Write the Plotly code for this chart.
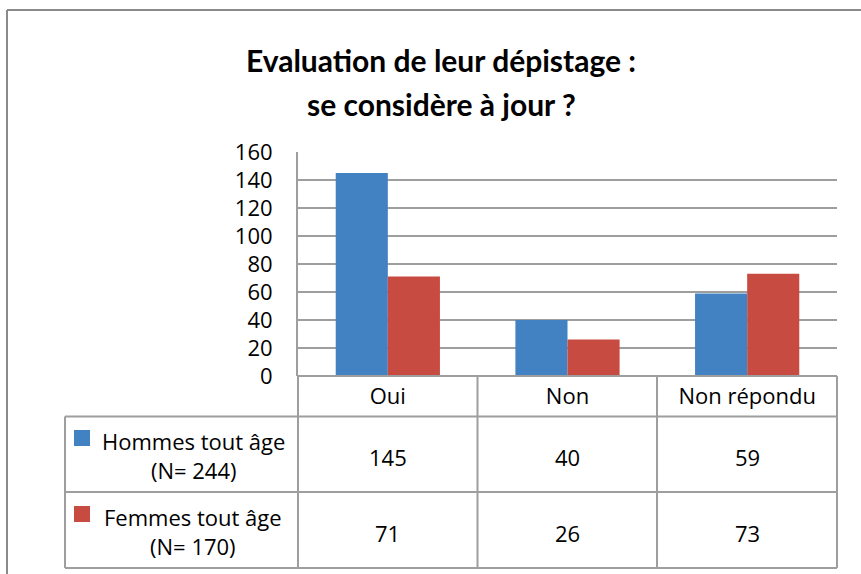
import plotly.graph_objects as go

categories = ["Oui", "Non", "Non répondu"]
series_names = ["Hommes tout âge<br>(N= 244)", "Femmes tout âge<br>(N= 170)"]
hommes = [145, 40, 59]
femmes = [71, 26, 73]
y_ticks = [0, 20, 40, 60, 80, 100, 120, 140, 160]
colors = ["#4281c2", "#c84b42"]
title_lines = ["Evaluation de leur dépistage :", "se considère à jour ?"]

W, H = 861, 574
L, R, T, B = 298, 837, 152, 376
FONT = "Open Sans"
FS = 22
GRID = "#9e9e9e"


def px(x):
    return (x - L) / (R - L)


def py(y):
    return (B - y) / (B - T)


fig = go.Figure()
for name, vals, col in zip(series_names, [hommes, femmes], colors):
    fig.add_trace(go.Bar(x=categories, y=vals, name=name, marker=dict(color=col, line=dict(width=0))))

shapes = []
ann = []


def line(x0, y0, x1, y1, color=GRID, w=2):
    shapes.append(dict(type="line", xref="paper", yref="paper", x0=px(x0), y0=py(y0), x1=px(x1), y1=py(y1),
                       line=dict(color=color, width=w)))


# outer chart border
line(7, 10, 861, 10, "#8a8a8a", 2)
line(7, 10, 7, 574, "#8a8a8a", 2)

# data table grid
col_edges = [298, 477.5, 657, 837]
row_edges = [376, 416.5, 492, 568]
for xe in col_edges:
    line(xe, 376, xe, 568)
line(65, 416.5, 65, 568)
line(298, 376, 837, 376)
for ye in row_edges[1:]:
    line(65, ye, 837, ye)

# table rows: legend keys, labels, values
row_centers = [455, 531]
for i, (name, vals, col) in enumerate(zip(series_names, [hommes, femmes], colors)):
    yc = row_centers[i]
    shapes.append(dict(type="rect", xref="paper", yref="paper",
                       x0=px(74), x1=px(90), y0=py(yc - 25), y1=py(yc - 9),
                       fillcolor=col, line=dict(width=0)))
    ann.append(dict(text=name, xref="paper", yref="paper", x=px(193), y=py(yc), showarrow=False,
                    xanchor="center", yanchor="middle", align="center",
                    font=dict(family=FONT, size=FS, color="#000")))
    for cat, v in zip(categories, vals):
        ann.append(dict(text=str(v), xref="x", yref="paper", x=cat, y=py(yc + 2), showarrow=False,
                        xanchor="center", yanchor="middle",
                        font=dict(family=FONT, size=FS, color="#000")))

# title
for t, yc in zip(title_lines, [60, 104]):
    ann.append(dict(text="<b>" + t + "</b>", xref="paper", yref="paper", x=px(441), y=py(yc),
                    showarrow=False, xanchor="center", yanchor="middle",
                    font=dict(family="Lato", size=30, color="#000")))

fig.update_layout(
    width=W, height=H,
    margin=dict(l=L, r=W - R, t=T, b=H - B, pad=0),
    paper_bgcolor="white", plot_bgcolor="white",
    barmode="group", bargap=0.42, bargroupgap=0,
    showlegend=False,
    shapes=shapes, annotations=ann,
    xaxis=dict(type="category", range=[-0.5, 2.5], showgrid=False, zeroline=False, showline=False,
               ticks="", ticklabelstandoff=5, tickfont=dict(family=FONT, size=FS, color="#000")),
    yaxis=dict(range=[0, 160], tickvals=y_ticks, showgrid=True, gridcolor=GRID, gridwidth=2,
               zeroline=False, showline=True, linecolor=GRID, linewidth=2, ticks="",
               ticklabelstandoff=19, tickfont=dict(family=FONT, size=FS, color="#000")),
)

fig.write_html("out.html", config={"displayModeBar": False},
               post_script="document.body.style.margin='0';document.body.style.overflow='hidden';")
